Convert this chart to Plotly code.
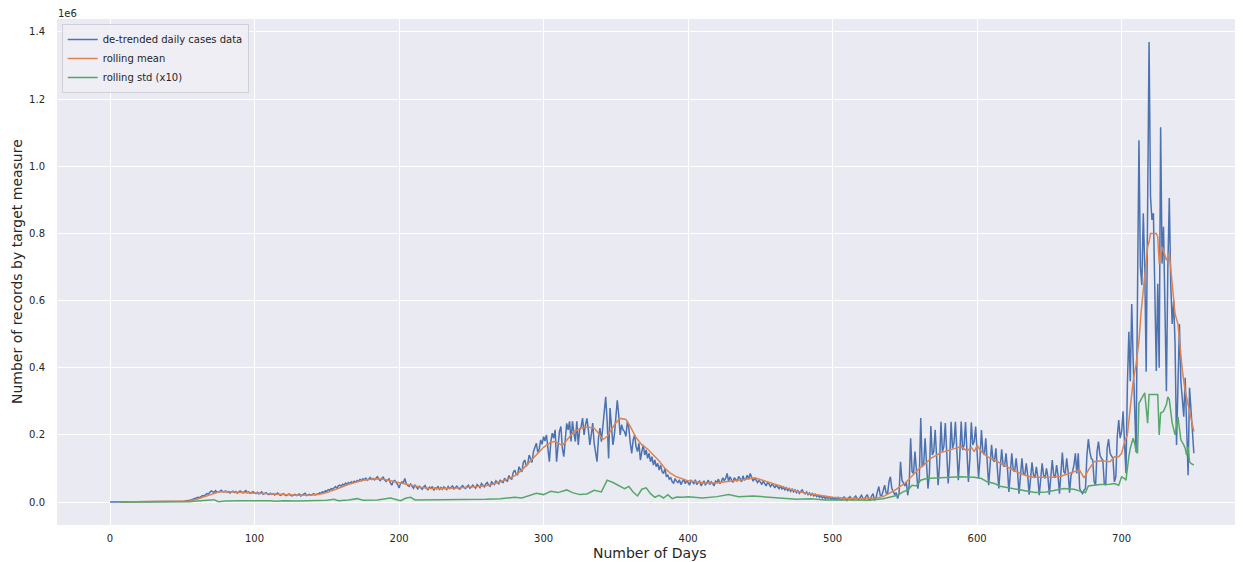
import plotly.graph_objects as go

# ---------------- data ----------------
# de-trended daily cases, in thousands, one value per day starting at day 0
blue_k = [
    0, 0, 0, 0, 0, 0, 0, 0, 0, 0,
    0, 0, 0, 0, 0, 0, 0, 0, 0, 0,
    0, 0, 0, 0, 0, 0, 0, 0, 0, 0,
    0, 0, 0, 0, 1, 0, 1, 0, 1, 1,
    1, 1, 1, 1, 1, 1, 2, 1, 2, 2,
    2, 2, 3, 3, 4, 5, 6, 8, 9, 11,
    12, 14, 13, 17, 19, 18, 22, 25, 24, 29,
    33, 31, 28, 34, 30, 29, 32, 35, 31, 30,
    33, 29, 31, 27, 30, 32, 28, 31, 26, 29,
    33, 30, 27, 31, 34, 28, 30, 26, 28, 31,
    27, 25, 29, 24, 27, 30, 23, 26, 28, 24,
    22, 26, 23, 25, 21, 24, 27, 22, 20, 23,
    25, 21, 19, 22, 24, 20, 18, 21, 23, 19,
    21, 24, 18, 20, 22, 26, 19, 21, 23, 20,
    22, 25, 21, 24, 23, 27, 26, 30, 29, 33,
    32, 37, 35, 40, 38, 43, 46, 41, 48, 50,
    47, 53, 51, 56, 52, 58, 55, 60, 57, 62,
    59, 64, 61, 67, 63, 69, 66, 71, 65, 68,
    73, 67, 70, 66, 72, 75, 68, 64, 71, 74,
    66, 61, 65, 69, 57, 50, 62, 64, 58, 52,
    42, 55, 60, 57, 70, 54, 49, 46, 53, 45,
    41, 50, 44, 39, 47, 43, 38, 45, 49, 40,
    37, 44, 40, 46, 35, 42, 39, 47, 36, 43,
    38, 45, 41, 37, 46, 40, 44, 48, 39, 42,
    47, 41, 38, 45, 49, 43, 40, 46, 50, 41,
    44, 50, 46, 41, 52, 47, 43, 55, 49, 45,
    54, 58, 50, 47, 60, 55, 52, 63, 57, 54,
    66, 60, 58, 71, 64, 62, 79, 70, 68, 88,
    95, 84, 80, 105, 96, 90, 118, 125, 108, 112,
    140, 126, 118, 150, 162, 175, 148, 158, 185, 172,
    195, 182, 200, 165, 120, 178, 205, 190, 215, 120,
    175, 210, 225, 160, 135, 195, 234, 215, 240, 180,
    240, 205, 180, 240, 170, 215, 225, 250, 200, 230,
    249, 215, 170, 200, 235, 175, 150, 120, 190, 220,
    180, 230, 260, 313, 240, 130, 280, 220, 170, 200,
    250, 303, 260, 200, 230, 215, 210, 195, 240, 220,
    175, 145, 185, 200, 165, 150, 175, 125, 150, 170,
    140, 155, 130, 145, 120, 135, 110, 125, 105, 115,
    95, 110, 90, 85, 100, 75, 80, 68, 72, 60,
    56, 70, 62, 58, 66, 52, 60, 68, 55, 63,
    58, 50, 64, 60, 55, 66, 52, 58, 62, 48,
    56, 63, 50, 58, 65, 52, 60, 55, 48, 62,
    58, 68, 55, 60, 72, 64, 70, 85, 62, 75,
    68, 58, 72, 66, 62, 76, 70, 60, 78, 65,
    70, 80, 68, 85, 72, 62, 70, 66, 58, 64,
    60, 52, 62, 56, 48, 58, 54, 46, 52, 50,
    42, 50, 46, 40, 48, 38, 44, 36, 42, 34,
    40, 32, 38, 30, 36, 28, 34, 26, 32, 36,
    28, 24, 30, 22, 27, 20, 25, 18, 23, 16,
    20, 14, 18, 12, 17, 10, 15, 11, 14, 9,
    13, 8, 12, 7, 14, 10, 6, 11, 15, 8,
    5, 12, 16, 9, 6, 13, 18, 10, 7, 14,
    20, 11, 8, 16, 22, 9, 6, 18, 25, 5,
    12, 30, 46, 20, 18, 34, 50, 28, 22, 60,
    75, 40, 30, 22, 28, 10, 25, 120, 65, 55,
    48, 60, 20, 50, 190, 90, 85, 150, 85, 40,
    70, 250, 105, 110, 190, 100, 40, 85, 226, 140,
    150, 215, 130, 50, 110, 239, 150, 165, 235, 140,
    55, 120, 239, 160, 175, 239, 150, 65, 135, 240,
    155, 170, 238, 150, 60, 130, 237, 170, 180, 225,
    150, 70, 130, 214, 150, 140, 190, 120, 50, 110,
    170, 125, 120, 160, 110, 40, 100, 157, 110, 105,
    145, 100, 30, 90, 145, 95, 90, 130, 90, 25,
    80, 130, 85, 80, 115, 80, 22, 65, 118, 80,
    72, 105, 75, 20, 70, 115, 80, 70, 100, 75,
    22, 68, 125, 80, 72, 110, 80, 25, 75, 147,
    90, 85, 130, 90, 28, 80, 90, 110, 145, 85,
    145, 40, 30, 25, 35, 40, 140, 187, 150, 130,
    125, 60, 50, 150, 180, 140, 130, 125, 55, 50,
    160, 187, 145, 135, 130, 60, 75, 195, 244, 190,
    210, 270, 150, 86, 350, 507, 360, 590, 420, 300,
    150, 620, 1077, 700, 646, 860, 700, 388, 800, 1370,
    910, 840, 860, 560, 390, 650, 400, 1116, 710, 820,
    560, 330, 700, 905, 650, 530, 600, 470, 170, 400,
    530, 360, 300, 254, 370, 200, 80, 340, 280, 210,
    145,
]

# rolling mean, in thousands
mean_days = [6, 50, 55, 60, 65, 70, 75, 80, 90, 100, 110, 120, 130, 140, 145,
             150, 155, 160, 165, 170, 175, 180, 185, 190, 195, 200, 205, 210,
             215, 220, 230, 240, 250, 260, 265, 270, 275, 280, 285, 290, 295,
             300, 305, 308, 313, 317, 321, 325, 330, 335, 338, 341, 344, 347,
             350, 353, 357, 360, 364, 368, 372, 376, 380, 384, 388, 392, 396,
             400, 405, 413, 420, 427, 435, 440, 446, 450, 455, 460, 465, 470,
             475, 482, 490, 500, 510, 520, 530, 535, 540, 543, 547, 550, 556,
             560, 563, 568, 575, 580, 586, 589, 593, 596, 598, 600, 603, 607,
             612, 616, 620, 625, 630, 635, 639, 645, 652, 658, 663, 667, 671,
             672, 674, 677, 681, 686, 692, 695, 698, 700, 702, 704, 706, 708,
             710, 712, 713.5, 715.5, 718, 719, 720, 722, 724, 725, 726, 727,
             728, 730, 731, 733, 734, 735, 737, 739, 742, 744, 746, 748, 750]
mean_k = [0, 1, 3, 8, 15, 24, 30, 31, 29, 27, 24, 21, 20, 21, 23,
          28, 35, 44, 53, 60, 65, 68, 69, 67, 62, 57, 53, 49,
          44, 41, 40, 42, 44, 48, 53, 60, 68, 78, 95, 118, 140,
          163, 178, 180, 168, 190, 210, 218, 223, 220, 205, 186, 195, 216,
          236, 249, 246, 225, 192, 170, 158, 140, 122, 100, 85, 75, 68,
          63, 60, 56, 57, 60, 65, 68, 72, 67, 60, 52, 46, 39,
          32, 26, 20, 14, 11, 10, 12, 16, 28, 35, 47, 55, 82,
          100, 110, 130, 147, 153, 160, 165, 152, 163, 150, 168, 150, 135,
          125, 115, 105, 95, 85, 77, 74, 73, 74, 77, 85, 90, 94,
          85, 72, 95, 120, 123, 120, 135, 135, 145, 178, 200, 280, 360,
          410, 480, 566, 660, 760, 775, 800, 800, 800, 790, 710, 740,
          760, 735, 720, 740, 700, 640, 560, 530, 393, 330, 290, 260, 210]

# rolling std (x10), in thousands
std_days = [6, 50, 55, 60, 65, 70, 72, 75, 80, 90, 100, 110, 115, 120, 130, 140,
            150, 155, 158, 165, 171, 175, 185, 194, 198, 201, 205, 208, 211,
            220, 230, 240, 250, 260, 270, 280, 285, 290, 295, 300, 305, 310,
            316, 320, 325, 330, 335, 340, 344, 348, 352, 356, 359, 362, 365,
            368, 371, 374, 377, 380, 383, 386, 389, 392, 396, 400, 410, 420,
            428, 435, 445, 455, 465, 475, 485, 495, 505, 515, 525, 535, 540,
            545, 549, 552, 555, 558, 561, 565, 575, 588, 598, 603, 607, 612,
            616, 625, 633, 640, 648, 655, 660, 667, 672, 675, 677, 685, 692,
            695, 698, 700, 702, 703, 705, 706, 708, 709, 710, 711, 712, 714,
            716, 717, 718, 719, 722, 725, 726, 727, 729, 731, 732, 733, 735,
            737, 739, 741, 743, 744, 745, 746, 747, 748, 750]
std_k = [0, 0, 1, 3, 5, 8, 7, 1, 3, 4, 5, 4, 2, 4, 3, 4,
         5, 8, 4, 6, 10, 5, 6, 12, 8, 4, 12, 14, 6,
         6, 8, 6, 8, 8, 10, 14, 12, 20, 26, 22, 32, 28,
         36, 28, 22, 24, 35, 30, 65, 58, 50, 40, 46, 30, 18,
         38, 42, 25, 14, 20, 12, 22, 10, 15, 14, 16, 12, 16,
         22, 16, 18, 14, 10, 8, 10, 6, 7, 5, 5, 10, 15,
         20, 31, 35, 50, 48, 65, 70, 72, 75, 74, 70, 60, 55,
         47, 40, 35, 28, 30, 35, 40, 38, 33, 28, 48, 52, 53,
         55, 50, 75, 70, 65, 135, 160, 190, 175, 150, 145, 294, 310,
         325, 280, 235, 320, 320, 320, 200, 265, 270, 290, 313, 305, 235,
         200, 254, 185, 170, 160, 140, 165, 120, 115, 110]

x_ticks = [0, 100, 200, 300, 400, 500, 600, 700]
y_tick_vals = [0, 0.2, 0.4, 0.6, 0.8, 1.0, 1.2, 1.4]   # in units of 1e6
y_tick_text = ["0.0", "0.2", "0.4", "0.6", "0.8", "1.0", "1.2", "1.4"]

series_names = ["de-trended daily cases data", "rolling mean", "rolling std (x10)"]
series_colors = ["#4C72B0", "#DD8452", "#55A868"]
x_title = "Number of Days"
y_title = "Number of records by target measure"
offset_label = "1e6"

# ---------------- figure ----------------
days = list(range(len(blue_k)))
SCALE = 1000  # values above are in thousands

fig = go.Figure()
fig.add_trace(go.Scatter(x=days, y=[v * SCALE for v in blue_k], mode="lines",
                         name=series_names[0],
                         line=dict(color=series_colors[0], width=1.5)))
fig.add_trace(go.Scatter(x=mean_days, y=[v * SCALE for v in mean_k], mode="lines",
                         name=series_names[1],
                         line=dict(color=series_colors[1], width=1.5)))
fig.add_trace(go.Scatter(x=std_days, y=[v * SCALE for v in std_k], mode="lines",
                         name=series_names[2],
                         line=dict(color=series_colors[2], width=1.5)))

font_family = "DejaVu Sans, Liberation Sans, sans-serif"
tick_color = "#262626"

# the page body adds an 8 px margin, so the figure is 8 px smaller than the window
fig.update_layout(
    width=1235, height=554,
    margin=dict(l=49, r=0, t=11, b=37),
    paper_bgcolor="white",
    plot_bgcolor="#EAEAF2",
    font=dict(family=font_family, color=tick_color),
    showlegend=True,
    legend=dict(
        x=0.004, y=0.99, xanchor="left", yanchor="top",
        bgcolor="rgba(238,238,244,0.85)",
        bordercolor="#CFCFD6", borderwidth=1,
        font=dict(size=10, family=font_family, color=tick_color),
        itemwidth=30, tracegroupgap=0,
    ),
)

fig.update_xaxes(
    range=[-36.7, 784],
    tickvals=x_ticks,
    ticktext=[str(t) for t in x_ticks],
    showgrid=True, gridcolor="white", gridwidth=1.2,
    zeroline=False, showline=False, ticks="",
    ticklabelstandoff=6,
    tickfont=dict(size=10, color=tick_color),
    automargin=False,
)
fig.update_yaxes(
    range=[-68500, 1438500],
    tickvals=[v * 1e6 for v in y_tick_vals],
    ticktext=y_tick_text,
    showgrid=True, gridcolor="white", gridwidth=1.2,
    zeroline=False, showline=False, ticks="",
    ticklabelstandoff=11,
    tickfont=dict(size=10, color=tick_color),
    automargin=False,
)

# axis titles and the matplotlib-style offset label
fig.add_annotation(
    text=x_title, xref="paper", yref="paper", x=0.5, y=0,
    xanchor="center", yanchor="middle", yshift=-28, showarrow=False,
    font=dict(size=14, color=tick_color),
)
fig.add_annotation(
    text=y_title, xref="paper", yref="paper", x=0, y=0.5,
    xanchor="center", yanchor="middle", xshift=-40, textangle=-90,
    showarrow=False, font=dict(size=14, color=tick_color),
)
fig.add_annotation(
    text=offset_label, xref="paper", yref="paper", x=0, y=1,
    xanchor="left", yanchor="bottom", showarrow=False,
    font=dict(size=10, color=tick_color), xshift=-1, yshift=-2,
)

fig.write_html("out.html")
